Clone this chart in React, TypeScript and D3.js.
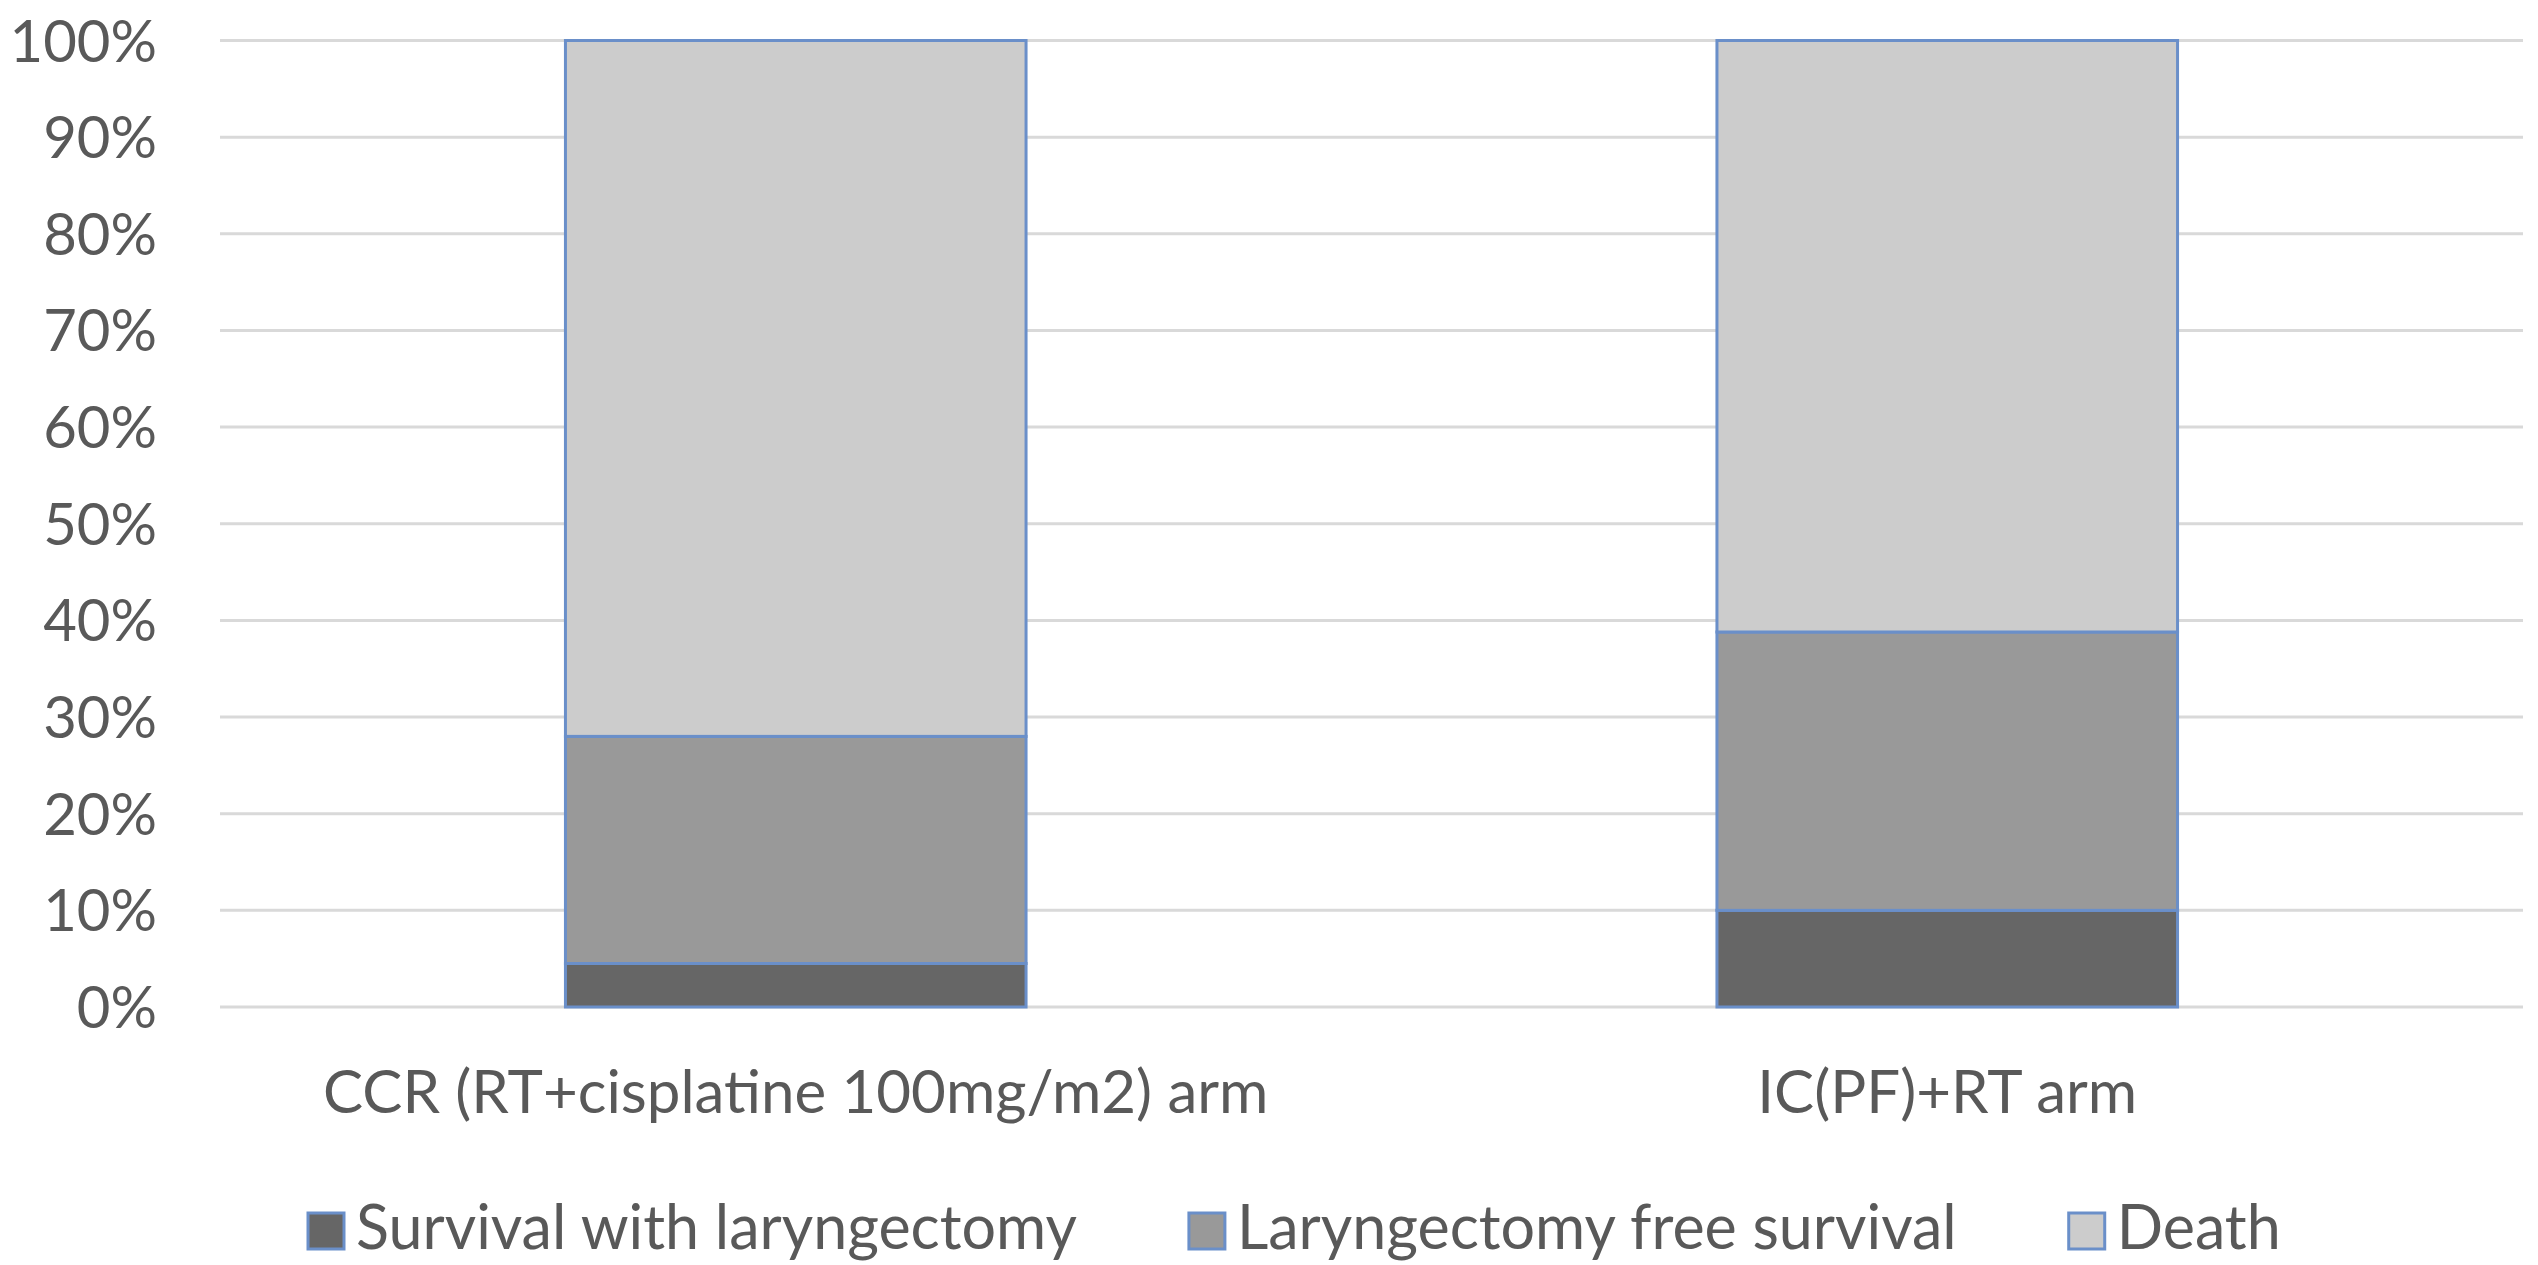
import React, { useEffect, useRef } from "react";
import * as d3 from "d3";

const categories = ["CCR (RT+cisplatine 100mg/m2) arm", "IC(PF)+RT arm"];
const seriesNames = ["Survival with laryngectomy", "Laryngectomy free survival", "Death"];
const survivalWithLaryngectomy = [4.5, 10.0];
const laryngectomyFreeSurvival = [23.5, 28.8];
const death = [72.0, 61.2];
const seriesColors = ["#666666", "#999999", "#cccccc"];
const yTicks = [0, 10, 20, 30, 40, 50, 60, 70, 80, 90, 100];

const W = 2538;
const H = 1265;
const FONT = "Lato, 'Open Sans', sans-serif";
const TEXT = "#595959";
const BORDER = "#6a8fc9";

export default function App() {
  const ref = useRef<SVGSVGElement | null>(null);

  useEffect(() => {
    const svg = d3.select(ref.current);
    svg.selectAll("*").remove();

    const left = 220, right = 2523, top = 40.5, bottom = 1007;
    const x = d3.scaleBand<string>().domain(categories).range([left, right]).paddingInner(0.6).paddingOuter(0.3);
    const y = d3.scaleLinear().domain([0, 100]).range([bottom, top]);

    // gridlines
    svg.append("g").selectAll("line").data(yTicks).join("line")
      .attr("x1", left).attr("x2", right)
      .attr("y1", (d) => y(d)).attr("y2", (d) => y(d))
      .attr("stroke", "#d9d9d9").attr("stroke-width", 3);

    // y tick labels
    svg.append("g").selectAll("text").data(yTicks).join("text")
      .attr("x", 157).attr("y", (d) => y(d) + 21)
      .attr("text-anchor", "end")
      .attr("font-family", FONT).attr("font-size", 58).attr("fill", TEXT)
      .text((d) => `${d}%`);

    const rows = categories.map((c, i) => ({
      cat: c,
      s0: survivalWithLaryngectomy[i],
      s1: laryngectomyFreeSurvival[i],
      s2: death[i],
    }));
    const stack = d3.stack<any>().keys(["s0", "s1", "s2"])(rows);

    stack.forEach((layer, li) => {
      svg.append("g").selectAll("rect").data(layer).join("rect")
        .attr("x", (d: any) => x(d.data.cat)!)
        .attr("width", x.bandwidth())
        .attr("y", (d: any) => y(d[1]))
        .attr("height", (d: any) => y(d[0]) - y(d[1]))
        .attr("fill", seriesColors[li])
        .attr("stroke", BORDER).attr("stroke-width", 3);
    });

    // category labels
    svg.append("g").selectAll("text").data(categories).join("text")
      .attr("x", (d) => x(d)! + x.bandwidth() / 2)
      .attr("y", 1113)
      .attr("text-anchor", "middle")
      .attr("font-family", FONT).attr("font-size", 60).attr("fill", TEXT)
      .text((d) => d);

    // legend
    const lg = svg.append("g");
    const sq = 36;
    const gap = 112;
    let cx = 308;
    seriesNames.forEach((name, i) => {
      lg.append("rect").attr("x", cx).attr("y", 1213).attr("width", sq).attr("height", sq)
        .attr("fill", seriesColors[i]).attr("stroke", BORDER).attr("stroke-width", 3);
      const t = lg.append("text").attr("x", cx + sq + 12).attr("y", 1249)
        .attr("font-family", FONT).attr("font-size", 61).attr("fill", TEXT).text(name);
      const w = (t.node() as SVGTextElement).getComputedTextLength();
      cx = cx + sq + 12 + w + gap;
    });
  }, []);

  return (
    <svg ref={ref} width={W} height={H} style={{ display: "block", position: "absolute", left: 0, top: 0, background: "#fff" }} />
  );
}
